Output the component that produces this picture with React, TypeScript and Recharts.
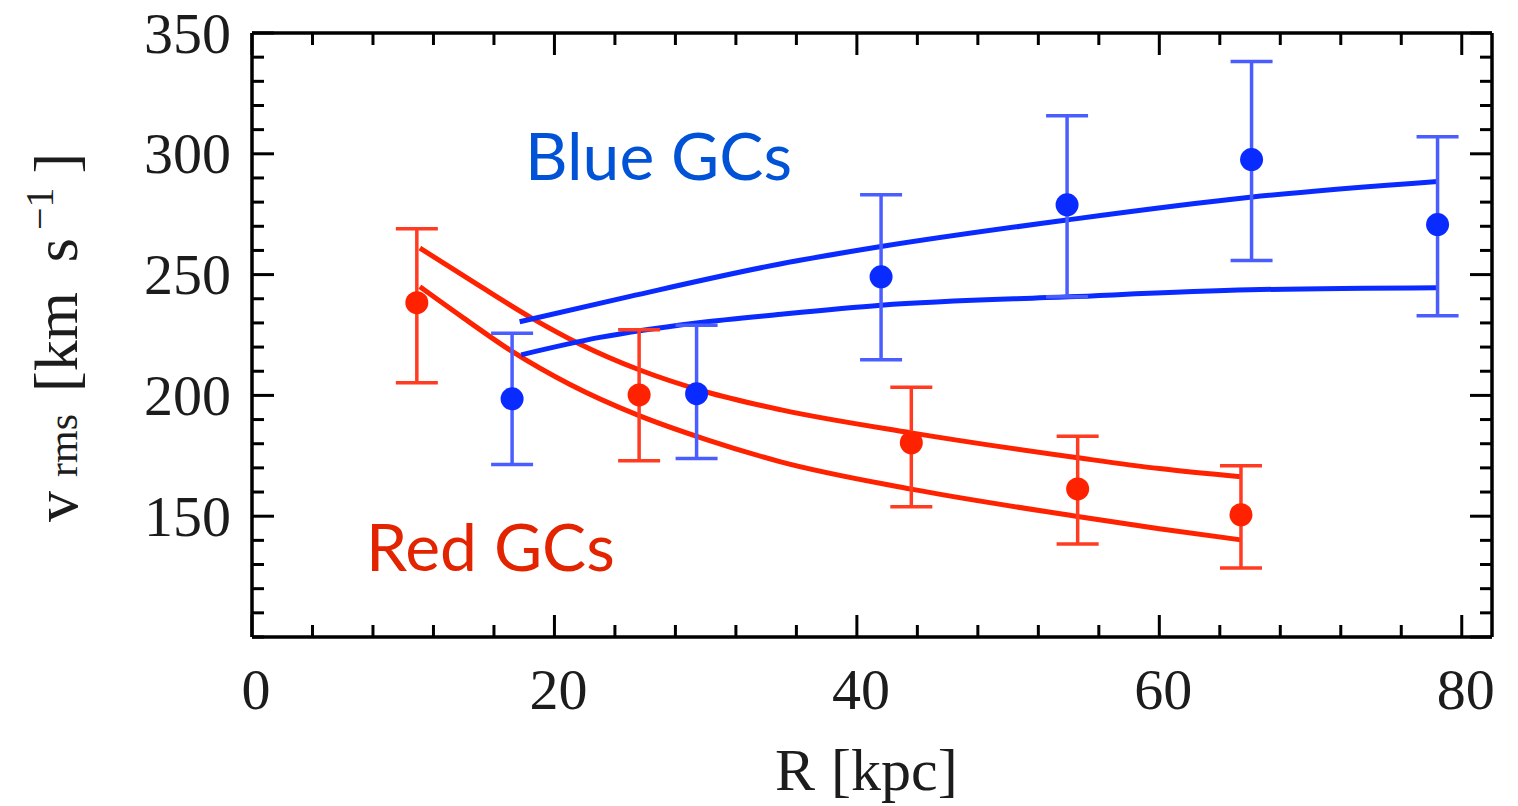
import React from "react";
import { ComposedChart, ErrorBar, Line, Scatter, XAxis, YAxis } from "recharts";

// measured points (R in kpc, v_rms in km/s) with error bar ends
const redR = [10.9, 25.6, 43.6, 54.6, 65.4];
const redV = [238.4, 200.2, 180.4, 161.3, 150.6];
const redHi = [269.0, 227.2, 203.4, 183.1, 170.9];
const redLo = [205.2, 172.9, 153.9, 138.5, 128.6];

const blueR = [17.2, 29.4, 41.6, 53.9, 66.1, 78.4];
const blueV = [198.6, 200.7, 249.1, 278.9, 297.6, 270.7];
const blueHi = [225.7, 229.0, 283.1, 315.8, 338.2, 307.1];
const blueLo = [171.4, 173.9, 214.8, 240.8, 255.8, 233.0];

// model curves
const redUpperR = [11.1, 15, 18.5, 21.6, 25.6, 30, 35, 43.6, 54.6, 60, 65.4];
const redUpperV = [261, 245.5, 232, 221.5, 210.6, 201.5, 194, 184.5, 174.2, 169.7, 166.3];
const redLowerR = [11.1, 14, 17.2, 21, 25.6, 30, 34.9, 43.6, 54.6, 60, 65.4];
const redLowerV = [245, 232, 218.2, 204.6, 191.6, 181.8, 172.6, 161.2, 149.9, 144.8, 140.2];
const blueUpperR = [17.7, 25, 35, 41.6, 54, 66, 78.4];
const blueUpperV = [230.5, 241, 254.5, 261.6, 272.7, 282, 288.5];
const blueLowerR = [17.8, 23, 29.4, 35, 41.6, 54, 66, 78.4];
const blueLowerV = [216.8, 224, 230, 233.6, 237.3, 240.8, 243.7, 244.6];

const xTicks = [0, 4, 8, 12, 16, 20, 24, 28, 32, 36, 40, 44, 48, 52, 56, 60, 64, 68, 72, 76, 80];
const xLabels = [0, 20, 40, 60, 80];
const yTicks = [100, 110, 120, 130, 140, 150, 160, 170, 180, 190, 200, 210, 220, 230, 240, 250, 260, 270, 280, 290, 300, 310, 320, 330, 340, 350];
const yLabels = [150, 200, 250, 300, 350];

const RED = "#ff2200";
const RED_BAR = "#ff3b22";
const BLUE = "#0a2bff";
const BLUE_BAR = "#4a5eff";
const numFont = "'Liberation Serif', 'DejaVu Serif', serif";

const points = (rs: number[], vs: number[], hi: number[], lo: number[]) =>
  rs.map((r, i) => ({ r, v: vs[i], err: [vs[i] - lo[i], hi[i] - vs[i]] }));
const curve = (rs: number[], vs: number[]) => rs.map((r, i) => ({ r, v: vs[i] }));

const redPts = points(redR, redV, redHi, redLo);
const bluePts = points(blueR, blueV, blueHi, blueLo);

const tickStroke = { stroke: "#000", strokeWidth: 3 };

function BottomTick({ x, y, payload }: any) {
  const major = xLabels.includes(payload.value);
  return (
    <g>
      <line x1={x} x2={x} y1={y} y2={y - (major ? 22 : 12)} {...tickStroke} />
      {major && (
        <text x={x + 4} y={y + 52} textAnchor="middle" dominantBaseline="central"
          fontFamily={numFont} fontSize={58} fill="#1c1c1c">
          {payload.value}
        </text>
      )}
    </g>
  );
}

function TopTick({ x, y, payload }: any) {
  const major = xLabels.includes(payload.value);
  return <line x1={x} x2={x} y1={y} y2={y + (major ? 22 : 12)} {...tickStroke} />;
}

function LeftTick({ x, y, payload }: any) {
  const major = yLabels.includes(payload.value);
  return (
    <g>
      <line x1={x} x2={x + (major ? 22 : 12)} y1={y} y2={y} {...tickStroke} />
      {major && (
        <text x={x - 21} y={y} textAnchor="end" dominantBaseline="central"
          fontFamily={numFont} fontSize={58} fill="#1c1c1c">
          {payload.value}
        </text>
      )}
    </g>
  );
}

function RightTick({ x, y, payload }: any) {
  const major = yLabels.includes(payload.value) || payload.value === 100;
  return <line x1={x} x2={x - (major ? 22 : 12)} y1={y} y2={y} {...tickStroke} />;
}

const dot = (fill: string) => (p: any) => <circle cx={p.cx} cy={p.cy} r={11.5} fill={fill} />;

export default function App() {
  const axisLine = { stroke: "#000", strokeWidth: 3.5 };
  return (
    <div style={{ position: "absolute", left: 0, top: 0, width: 1518, height: 806, background: "#fff" }}>
      <ComposedChart width={1518} height={806} margin={{ top: 32, right: 25, bottom: 0, left: 0 }}>
        <XAxis xAxisId="b" dataKey="r" type="number" domain={[0, 82]} ticks={xTicks} interval={0}
          height={169} tickSize={0} tickMargin={0} tickLine={false} axisLine={axisLine} tick={<BottomTick />} />
        <XAxis xAxisId="top" orientation="top" dataKey="r" type="number" domain={[0, 82]} ticks={xTicks}
          interval={0} height={1} tickSize={0} tickMargin={0} tickLine={false} axisLine={axisLine} tick={<TopTick />} />
        <YAxis yAxisId="l" type="number" domain={[100, 350]} ticks={yTicks} interval={0} width={252}
          tickSize={0} tickMargin={0} tickLine={false} axisLine={axisLine} tick={<LeftTick />} />
        <YAxis yAxisId="right" orientation="right" type="number" domain={[100, 350]} ticks={yTicks}
          interval={0} width={1} tickSize={0} tickMargin={0} tickLine={false} axisLine={axisLine} tick={<RightTick />} />

        {/* invisible copy so the mirrored top/right axes get drawn */}
        <Line xAxisId="top" yAxisId="right" data={curve(blueUpperR, blueUpperV)} dataKey="v" stroke="none"
          dot={false} activeDot={false} isAnimationActive={false} />

        <Line xAxisId="b" yAxisId="l" data={curve(redUpperR, redUpperV)} dataKey="v" type="monotone" stroke={RED}
          strokeWidth={5} dot={false} activeDot={false} isAnimationActive={false} />
        <Line xAxisId="b" yAxisId="l" data={curve(redLowerR, redLowerV)} dataKey="v" type="monotone" stroke={RED}
          strokeWidth={5} dot={false} activeDot={false} isAnimationActive={false} />
        <Line xAxisId="b" yAxisId="l" data={curve(blueUpperR, blueUpperV)} dataKey="v" type="monotone" stroke={BLUE}
          strokeWidth={5} dot={false} activeDot={false} isAnimationActive={false} />
        <Line xAxisId="b" yAxisId="l" data={curve(blueLowerR, blueLowerV)} dataKey="v" type="monotone" stroke={BLUE}
          strokeWidth={5} dot={false} activeDot={false} isAnimationActive={false} />

        <Scatter xAxisId="b" yAxisId="l" data={redPts} dataKey="v" shape={dot(RED)} isAnimationActive={false}>
          <ErrorBar dataKey="err" direction="y" width={21} stroke={RED_BAR} strokeWidth={3.5} />
        </Scatter>
        <Scatter xAxisId="b" yAxisId="l" data={bluePts} dataKey="v" shape={dot(BLUE)} isAnimationActive={false}>
          <ErrorBar dataKey="err" direction="y" width={21} stroke={BLUE_BAR} strokeWidth={3.5} />
        </Scatter>
      </ComposedChart>

      <svg width={1518} height={806} style={{ position: "absolute", left: 0, top: 0, pointerEvents: "none" }}>
        <text x={525} y={180} fontFamily="Lato, 'Open Sans', sans-serif" fontSize={66} fill="#0052d6">
          Blue GCs
        </text>
        <text x={366} y={571} fontFamily="Lato, 'Open Sans', sans-serif" fontSize={66} fill="#e22400">
          Red GCs
        </text>
        <text x={775} y={790} fontFamily={numFont} fontSize={60} fill="#1c1c1c">
          R<tspan dx={16}>[kpc]</tspan>
        </text>
        <text transform="translate(77,522) rotate(-90)" fontFamily={numFont} fontSize={62} fill="#1c1c1c">
          v<tspan dx={14} fontSize={42}>rms</tspan>
          <tspan dx={22}>[km</tspan>
          <tspan dx={30}>s</tspan>
          <tspan dx={8} dy={-24} fontSize={40}>−1</tspan>
          <tspan dx={14} dy={24}>]</tspan>
        </text>
      </svg>
    </div>
  );
}
